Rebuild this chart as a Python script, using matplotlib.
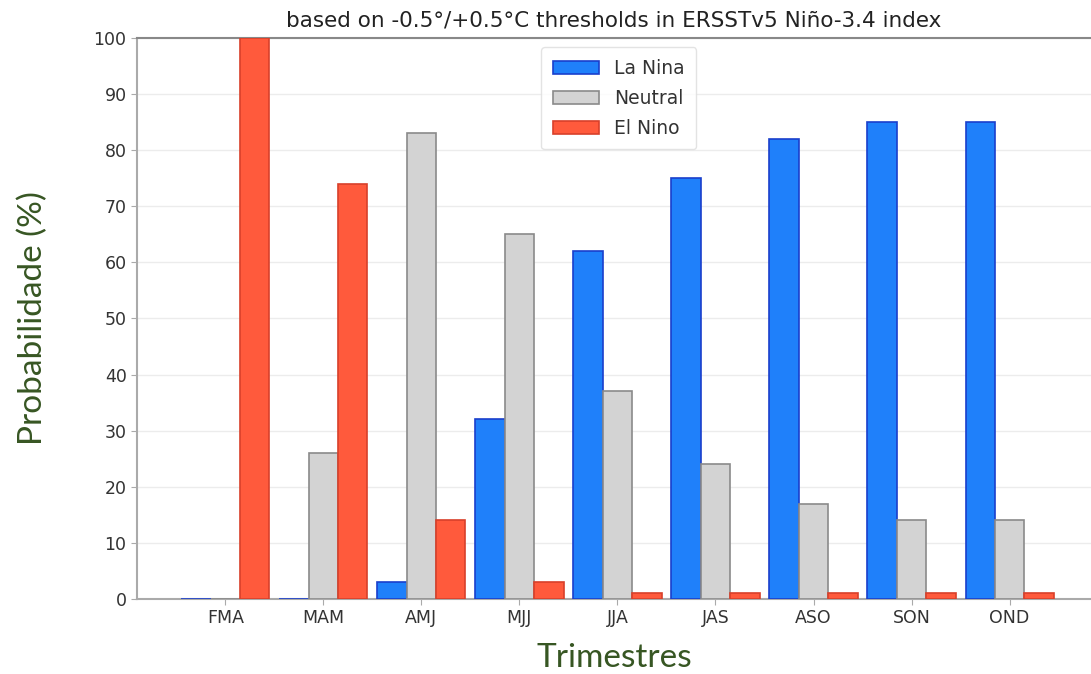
import matplotlib
matplotlib.use("Agg")
import matplotlib.pyplot as plt
import numpy as np

trimestres = ["FMA", "MAM", "AMJ", "MJJ", "JJA", "JAS", "ASO", "SON", "OND"]
la_nina = [0, 0, 3, 32, 62, 75, 82, 85, 85]
neutral = [0, 26, 83, 65, 37, 24, 17, 14, 14]
el_nino = [100, 74, 14, 3, 1, 1, 1, 1, 1]

fig = plt.figure(figsize=(10.91, 6.74), dpi=100)
ax = fig.add_axes([0.1256, 0.1113, 0.8744, 0.8323])

x = np.arange(len(trimestres))
w = 0.3
ax.bar(x - w, la_nina, w, color="#1f80fa", edgecolor="#1a3fcc", linewidth=1.2, label="La Nina", zorder=3)
ax.bar(x, neutral, w, color="#d3d3d3", edgecolor="#8a8a8a", linewidth=1.2, label="Neutral", zorder=3)
ax.bar(x + w, el_nino, w, color="#ff5a3c", edgecolor="#d8402a", linewidth=1.2, label="El Nino", zorder=3)

ax.set_xlim(-0.9, 8.83)
ax.set_ylim(0, 100)
ax.set_yticks(np.arange(0, 101, 10))
ax.set_xticks(x)
ax.set_xticklabels(trimestres)
ax.tick_params(axis="both", labelsize=12.5, colors="#333333", length=4, color="#aaaaaa")
ax.yaxis.grid(True, color="#ececec", linewidth=1, zorder=0)
ax.set_axisbelow(True)
for s in ["left", "bottom", "top"]:
    ax.spines[s].set_color("#aaaaaa")
    ax.spines[s].set_linewidth(1.5)
ax.spines["top"].set_color("#888888")
ax.spines["right"].set_visible(False)

ax.set_title("based on -0.5°/+0.5°C thresholds in ERSSTv5 Niño-3.4 index", fontsize=15.5, color="#222222", pad=8)
ax.set_ylabel("Probabilidade (%)", fontsize=24, color="#375623", family="Lato", labelpad=33)
ax.set_xlabel("Trimestres", fontsize=24, color="#375623", family="Lato", labelpad=11)

leg = ax.legend(loc="upper center", fontsize=13.5, frameon=True, borderpad=0.6, handlelength=2.5,
                labelspacing=0.6, bbox_to_anchor=(0.505, 1.0))
leg.get_frame().set_edgecolor("#dddddd")
for t in leg.get_texts():
    t.set_color("#333333")

fig.savefig("out.png", dpi=100)
